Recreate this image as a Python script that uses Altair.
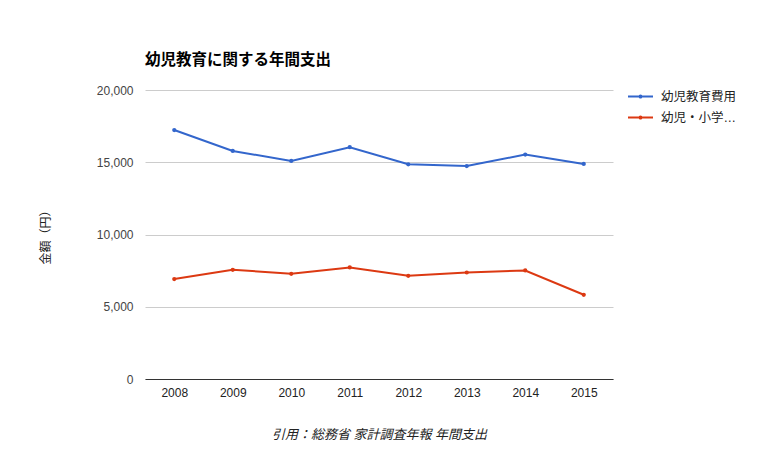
import altair as alt
import pandas as pd

years = ["2008", "2009", "2010", "2011", "2012", "2013", "2014", "2015"]
series_names = ["幼児教育費用", "幼児・小学…"]
preschool = [17230, 15780, 15090, 16040, 14860, 14740, 15530, 14880]
tutoring = [6920, 7560, 7280, 7720, 7140, 7370, 7510, 5830]
colors = ["#3366cc", "#dc3912"]
y_ticks = [0, 5000, 10000, 15000, 20000]

rows = []
for name, vals in zip(series_names, [preschool, tutoring]):
    for y, v in zip(years, vals):
        rows.append({"year": y, "series": name, "value": v})
df = pd.DataFrame(rows)

FONT = "Arial, 'Liberation Sans', 'Noto Sans CJK JP', sans-serif"
legend_symbol = "M-1,0H1M-0.08,0a0.08,0.08 0 1,0 0.16,0a0.08,0.08 0 1,0 -0.16,0"

chart = alt.Chart(df).mark_line(
    strokeWidth=2,
    point=alt.OverlayMarkDef(size=18, filled=True),
).encode(
    x=alt.X("year:O", scale=alt.Scale(type="point", padding=0.5),
            axis=alt.Axis(title="引用：総務省 家計調査年報 年間支出", labelAngle=0,
                          labelFontSize=12, labelColor="#222222", labelPadding=8,
                          ticks=False, domainColor="#333333", domainWidth=1,
                          titleFontSize=13, titleFontStyle="italic", titleFontWeight="normal",
                          titleColor="#222222", titlePadding=30, grid=False)),
    y=alt.Y("value:Q", scale=alt.Scale(domain=[0, 20000]),
            axis=alt.Axis(title="金額（円）", values=y_ticks, format=",d",
                          labelFontSize=12, labelColor="#444444", labelPadding=12,
                          ticks=False, domain=False, gridColor="#cccccc",
                          titleFontSize=12, titleFontWeight="normal", titleColor="#222222",
                          titleAngle=-90, titleX=-100, titleY=144, titleAlign="center",
                          titleBaseline="middle")),
    color=alt.Color("series:N", scale=alt.Scale(domain=series_names, range=colors),
                    legend=alt.Legend(title=None, orient="none", legendX=482, legendY=-7,
                                      symbolType=legend_symbol, symbolSize=625,
                                      symbolStrokeWidth=2, labelFontSize=12.5,
                                      labelColor="#222222", rowPadding=1, labelOffset=7)),
).properties(
    width=468,
    height=289,
    title=alt.TitleParams("幼児教育に関する年間支出", anchor="start", frame="group",
                          fontSize=15.5, fontWeight="bold", color="#000000", offset=15),
    autosize=alt.AutoSizeParams(type="none"),
    padding={"left": 137, "top": 82, "right": 130, "bottom": 78},
).configure(font=FONT).configure_view(stroke=None)

chart.save("out.html", embed_options={"renderer": "svg", "actions": False})
